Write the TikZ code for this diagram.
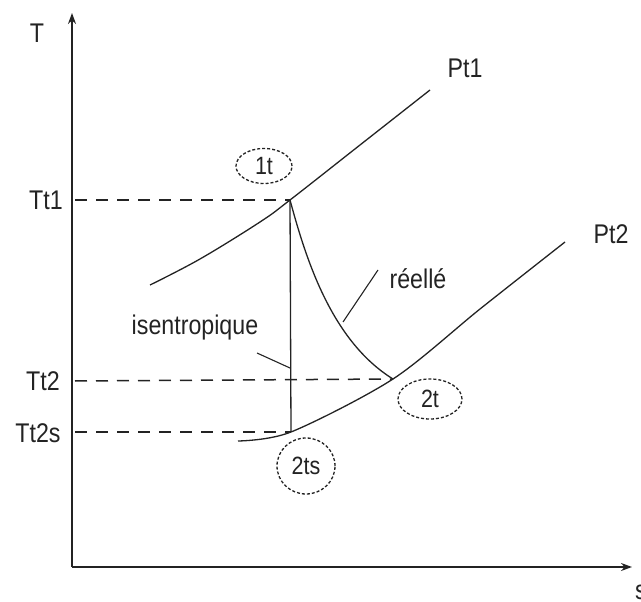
\documentclass[tikz,border=0pt]{standalone}
\usepackage{fontspec}
\setmainfont{Liberation Sans}[FakeStretch=0.86]
\usetikzlibrary{arrows.meta,shapes.geometric}
\definecolor{ink}{RGB}{35,35,35}
\tikzset{
  axis/.style={draw=ink,line width=1.8pt,-{Stealth[length=11pt,width=8pt]}},
  curve/.style={draw=ink,line width=1.3pt},
  guide/.style={draw=ink,line width=1.5pt,dash pattern=on 12pt off 9pt},
  lbl/.style={text=ink,font=\fontsize{27}{27}\selectfont,inner sep=0pt},
  state/.style={ellipse,draw=ink,line width=1.3pt,dash pattern=on 3pt off 2pt,
     text=ink,font=\fontsize{25}{25}\selectfont,inner sep=0pt},
}
\begin{document}
\begin{tikzpicture}[x=1pt,y=-1pt]
\useasboundingbox (0,0) rectangle (641,602);
% axes
\coordinate (O) at (72,567);
\coordinate (Ttop) at (72,13);
\coordinate (Send) at (632,567);
\draw[axis] (O) -- (Ttop);
\draw[axis] (O) -- (Send);
\node[lbl] (Tlab) at (37,33) {T};
\node[lbl] (Slab) at (641,592) {s};
% state points
\coordinate (p1) at (290,200);
\coordinate (p2) at (393,379);
\coordinate (p2s) at (291,432);
\coordinate (a1) at (75,200);
\coordinate (a2) at (75,381);
\coordinate (a2s) at (75,432);
% isobars
\draw[curve] plot[smooth,tension=0.6] coordinates {(150,285) (200,259) (260,222) (290,200) (360,145) (430,90)};
\draw[curve] plot[smooth,tension=0.5] coordinates {(238,441) (291,432) (393,379) (480,309) (565,242)};
\node[lbl] (Pt1) at (465,68) {Pt1};
\node[lbl] (Pt2) at (611,234) {Pt2};
% temperature guides
\draw[guide] (a1) -- (p1);
\draw[guide] (a2) -- (p2);
\draw[guide] (a2s) -- (p2s);
\node[lbl] (Tt1) at (46,200) {Tt1};
\node[lbl] (Tt2) at (43,381) {Tt2};
\node[lbl] (Tt2s) at (38,433) {Tt2s};
% transformations
\draw[curve] (p1) -- (p2s);
\draw[curve] (p1) .. controls (305,255) and (330,340) .. (p2);
% labels
\node[lbl] (iso) at (195,328) {isentropique};
\coordinate (isoA) at (257,353);
\coordinate (isoB) at (290,368);
\draw[curve,line width=1.1pt] (isoA) -- (isoB);
\node[lbl] (reel) at (418,279) {réellé};
\coordinate (reA) at (378,270);
\coordinate (reB) at (343,322);
\draw[curve,line width=1.1pt] (reA) -- (reB);
% state bubbles
\node[state,minimum width=56pt,minimum height=35pt] (s1) at (264,166) {1t};
\node[state,minimum width=64pt,minimum height=40pt] (s2) at (430,399) {2t};
\node[state,minimum width=58pt,minimum height=56pt] (s2s) at (306,466) {2ts};
\end{tikzpicture}
\end{document}
